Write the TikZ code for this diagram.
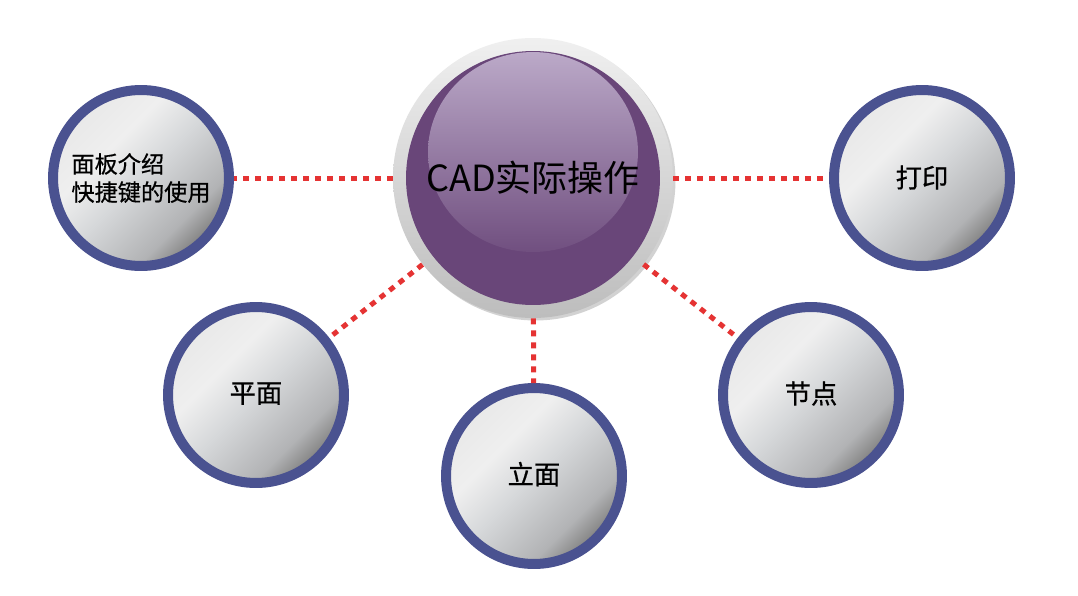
\documentclass[tikz,border=0pt]{standalone}
\usepackage{fontspec}
\newfontfamily\cjk{Noto Sans CJK SC}
\newfontfamily\cjkb[FakeBold=0.6]{Noto Sans CJK SC}
\usetikzlibrary{shadows}

\definecolor{ringblue}{HTML}{4A5290}
\definecolor{hubpurple}{HTML}{694679}
\definecolor{hublight}{HTML}{BBA9C8}
\definecolor{linkred}{HTML}{E53333}
\definecolor{bgblue}{HTML}{EAEFF7}
\definecolor{balldark}{HTML}{525252}
\definecolor{ballmid}{HTML}{8C8C8C}
\definecolor{ballgrey}{HTML}{B2B3B5}
\definecolor{ballcore}{HTML}{D6D8DA}
\definecolor{balllight}{HTML}{EFEFEF}
\definecolor{balledge}{HTML}{E6E6E6}

% shading of the small grey balls (dark towards the lower right)
\pgfdeclareverticalshading{satball}{100bp}{%
  color(0bp)=(balldark);
  color(20bp)=(balldark);
  color(27bp)=(ballmid);
  color(33bp)=(ballgrey);
  color(50bp)=(ballcore);
  color(62bp)=(balllight);
  color(80bp)=(balledge);
  color(100bp)=(balledge)}

\begin{document}
\begin{tikzpicture}[x=0.02cm, y=-0.02cm,
  hub/.style={circle, minimum size=5.6cm, top color=gray!12, bottom color=gray!52,
    drop shadow={shadow xshift=0.05cm, shadow yshift=-0.05cm, opacity=0.35},
    font=\cjk\fontsize{20.5pt}{24pt}\selectfont,
    path picture={
      \fill[hubpurple] (path picture bounding box.center) circle (2.54cm);
      \shade[top color=hublight, bottom color=hubpurple!95!white]
        ([yshift=0.52cm]path picture bounding box.center) ellipse (2.1cm and 2.0cm);
    }},
  sat/.style={circle, minimum size=3.52cm, draw=ringblue, line width=0.2cm,
    shading=satball, shading angle=45,
    drop shadow={shadow xshift=0.04cm, shadow yshift=-0.04cm, opacity=0.3},
    font=\cjkb\fontsize{15pt}{18pt}\selectfont, align=left},
  link/.style={draw=linkred, line width=0.1cm, dash pattern=on 0.12cm off 0.12cm}
]
  \useasboundingbox (0,0) rectangle (1078,595);

  % pale backdrop
  \begin{scope}
    \clip (532,155) circle (407);
    \shade[top color=white, middle color=bgblue, bottom color=white] (0,20) rectangle (1078,560);
  \end{scope}

  % centre
  \node[hub] (cad) at (533,178) {\raisebox{-0.06cm}{CAD实际操作}};

  % satellites
  \node[sat, font=\cjkb\fontsize{13.2pt}{16pt}\selectfont] (panel) at (141,178) {面板介绍\\快捷键的使用};
  \node[sat] (print) at (922,178) {\raisebox{0.06cm}{打印}};
  \node[sat] (plan) at (256,395) {\raisebox{0.1cm}{平面}};
  \node[sat] (elev) at (534,476) {\raisebox{0.12cm}{立面}};
  \node[sat] (joint) at (811,395) {\raisebox{0.1cm}{节点}};

  % dotted links
  \draw[link] (cad) -- (panel);
  \draw[link] (cad) -- (print);
  \draw[link] (cad) -- (plan);
  \draw[link] (cad) -- (elev);
  \draw[link] (cad) -- (joint);
\end{tikzpicture}
\end{document}
